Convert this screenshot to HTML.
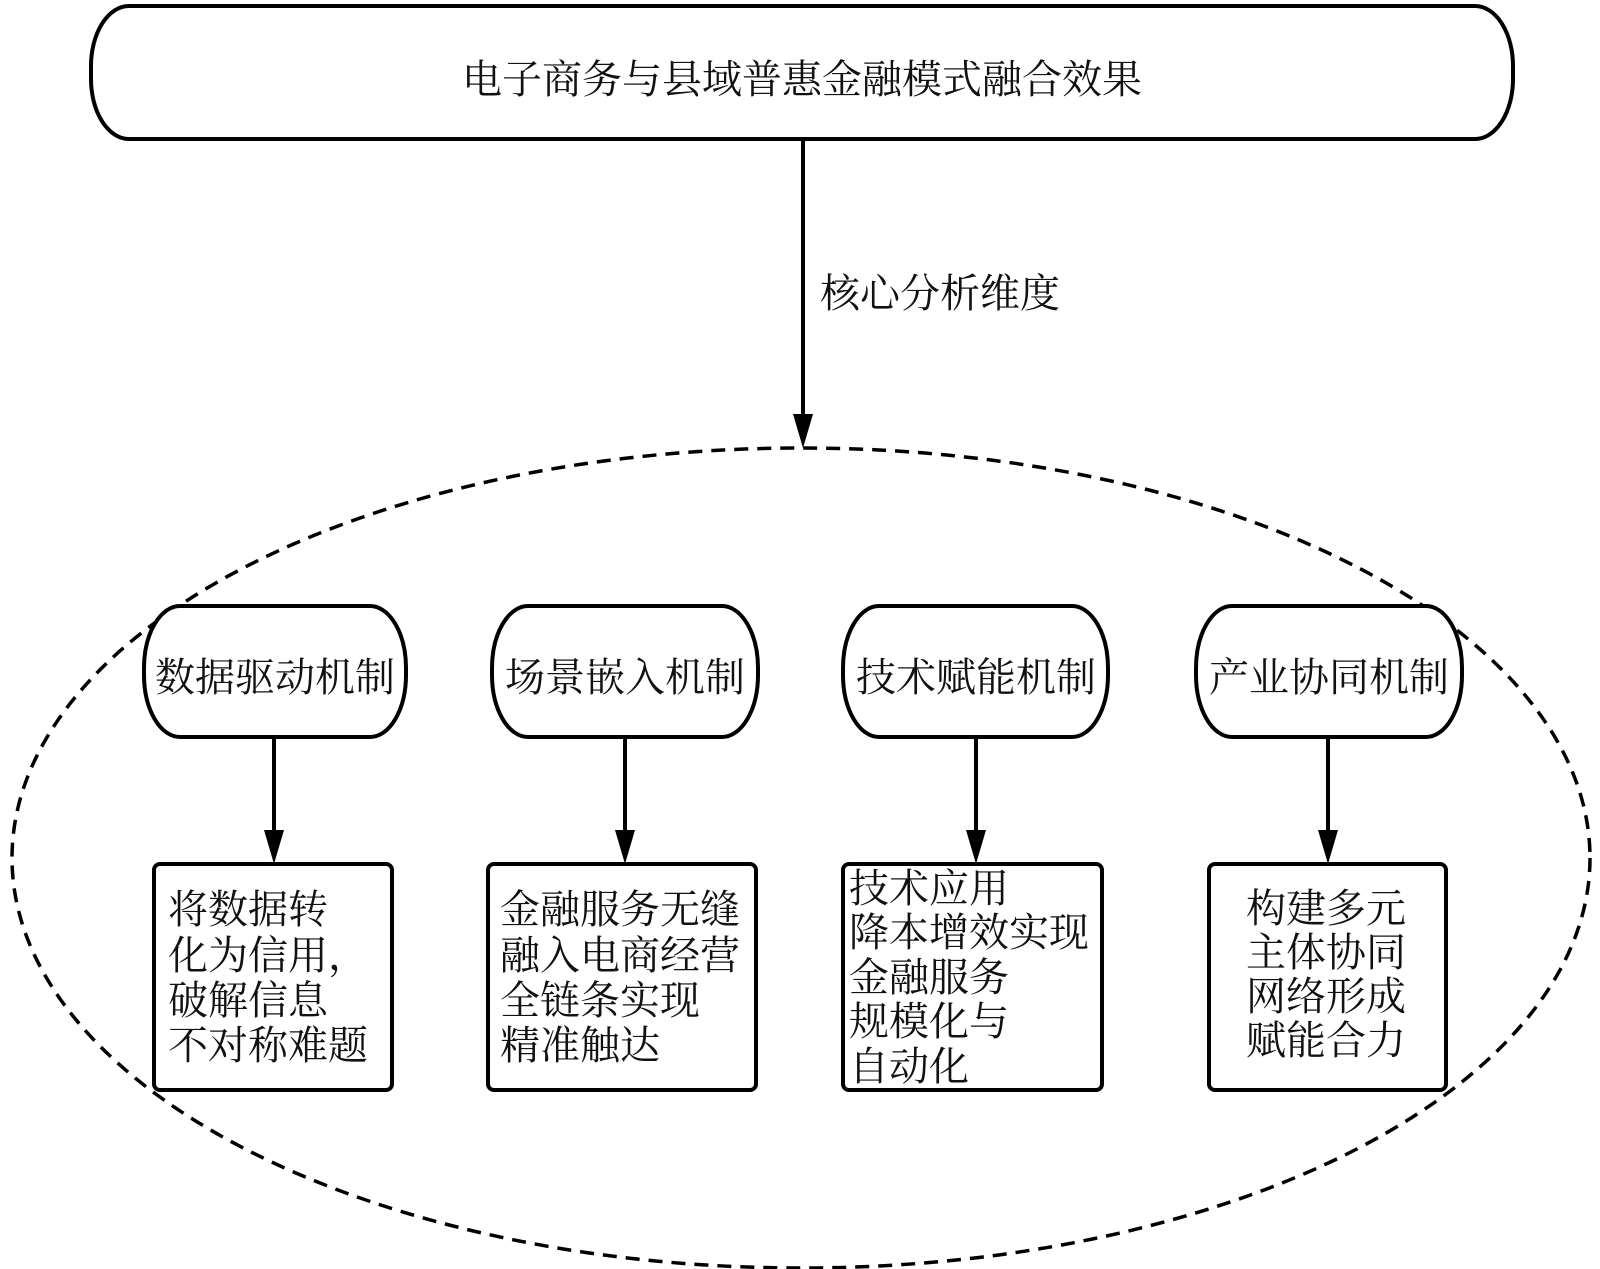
<!DOCTYPE html>
<html><head><meta charset="utf-8"><style>
html,body{margin:0;padding:0;background:#fff;}
svg{display:block;}
text{font-family:"Liberation Serif","Noto Serif CJK SC","Noto Sans CJK SC",serif;fill:#111;}
</style></head><body>
<svg width="1600" height="1269" viewBox="0 0 1600 1269" xmlns="http://www.w3.org/2000/svg">
<defs>
<marker id="ah" markerWidth="10" markerHeight="12" refX="5" refY="11" orient="auto" markerUnits="userSpaceOnUse" viewBox="0 0 10 12">
</marker>
</defs>
<!-- top box -->
<rect x="91" y="6" width="1422" height="133" rx="38" ry="60" fill="#fff" stroke="#000" stroke-width="4"/>
<text x="802" y="93" font-size="40" text-anchor="middle">电子商务与县域普惠金融模式融合效果</text>
<!-- main arrow -->
<line x1="803" y1="139" x2="803" y2="420" stroke="#000" stroke-width="4"/>
<polygon points="793,414 813,414 803,448" fill="#000"/>
<text x="820" y="307" font-size="40">核心分析维度</text>
<!-- ellipse -->
<ellipse cx="801" cy="858" rx="789" ry="410" fill="none" stroke="#000" stroke-width="3.5" stroke-dasharray="14,9"/>
<!-- pills -->
<g fill="#fff" stroke="#000" stroke-width="4">
<rect x="144" y="606" width="262" height="131" rx="36" ry="62"/>
<rect x="492" y="606" width="266" height="131" rx="36" ry="62"/>
<rect x="843" y="606" width="265" height="131" rx="36" ry="62"/>
<rect x="1196" y="606" width="266" height="131" rx="36" ry="62"/>
</g>
<g font-size="40" text-anchor="middle">
<text x="275" y="691">数据驱动机制</text>
<text x="625" y="691">场景嵌入机制</text>
<text x="976" y="691">技术赋能机制</text>
<text x="1329" y="691">产业协同机制</text>
</g>
<!-- arrows -->
<g stroke="#000" stroke-width="4">
<line x1="274" y1="737" x2="274" y2="835"/>
<line x1="625" y1="737" x2="625" y2="835"/>
<line x1="976" y1="737" x2="976" y2="835"/>
<line x1="1328" y1="737" x2="1328" y2="835"/>
</g>
<g fill="#000">
<polygon points="264,830 284,830 274,864"/>
<polygon points="615,830 635,830 625,864"/>
<polygon points="966,830 986,830 976,864"/>
<polygon points="1318,830 1338,830 1328,864"/>
</g>
<!-- boxes -->
<g fill="#fff" stroke="#000" stroke-width="4">
<rect x="154" y="864" width="238" height="226" rx="6"/>
<rect x="488" y="864" width="268" height="226" rx="6"/>
<rect x="843" y="864" width="259" height="226" rx="6"/>
<rect x="1209" y="864" width="237" height="226" rx="6"/>
</g>
<g font-size="40">
<text x="168" y="923">将数据转</text>
<text x="168" y="969">化为信用，</text>
<text x="168" y="1014">破解信息</text>
<text x="168" y="1059">不对称难题</text>
<text x="500" y="923">金融服务无缝</text>
<text x="500" y="969">融入电商经营</text>
<text x="500" y="1014">全链条实现</text>
<text x="500" y="1059">精准触达</text>
<text x="849" y="902">技术应用</text>
<text x="849" y="946">降本增效实现</text>
<text x="849" y="991">金融服务</text>
<text x="849" y="1035">规模化与</text>
<text x="849" y="1080">自动化</text>
<text x="1246" y="922">构建多元</text>
<text x="1246" y="966">主体协同</text>
<text x="1246" y="1010">网络形成</text>
<text x="1246" y="1054">赋能合力</text>
</g>
</svg>
</body></html>
